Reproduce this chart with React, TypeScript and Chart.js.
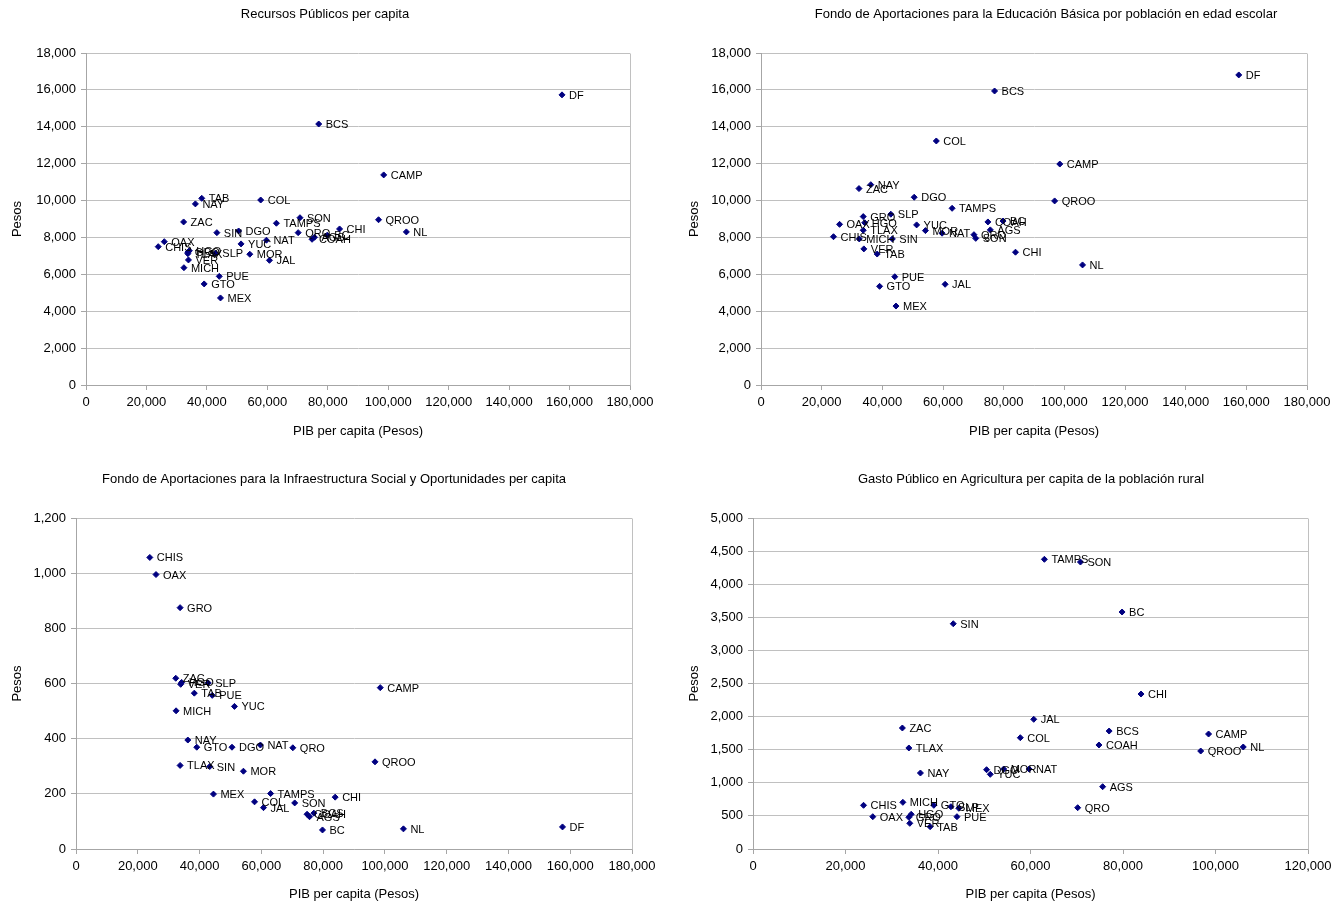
import React, { useEffect, useRef } from "react";
import { Chart, registerables } from "chart.js";

Chart.register(...registerables);

// ---------------- DATA ----------------
const states = [
  "AGS", "BC", "BCS", "CAMP", "COAH", "COL", "CHIS", "CHI", "DF", "DGO", "GTO",
  "GRO", "HGO", "JAL", "MEX", "MICH", "MOR", "NAY", "NL", "OAX", "PUE", "QRO",
  "QROO", "SLP", "SIN", "SON", "TAB", "TAMPS", "TLAX", "VER", "YUC", "ZAC", "NAT",
];

// PIB per capita (Pesos)
const pibPerCapita = [
  75600, 79800, 77000, 98500, 74800, 57800, 23900, 83900, 157500, 50500, 39100,
  33700, 34200, 60700, 44500, 32400, 54200, 36200, 106000, 25900, 44100, 70200,
  96800, 42800, 43300, 70800, 38300, 63000, 33700, 33900, 51300, 32300, 59700,
];

// Recursos Públicos per capita
const recursosPublicos = [
  8010, 8120, 14150, 11390, 7900, 10030, 7500, 8460, 15730, 8350, 5480,
  7200, 7280, 6760, 4720, 6360, 7090, 9820, 8300, 7770, 5890, 8260,
  8960, 7140, 8260, 9070, 10120, 8770, 7120, 6780, 7650, 8840, 7850,
];

// FAEB por población en edad escolar
const faeb = [
  8410, 8890, 15940, 11980, 8840, 13230, 8040, 7200, 16810, 10180, 5350,
  9130, 8800, 5460, 4280, 7920, 8370, 10860, 6510, 8710, 5870, 8150,
  9980, 9260, 7920, 7950, 7100, 9580, 8390, 7380, 8680, 10650, 8230,
];

// FAIS per capita
const fais = [
  117, 69, 130, 585, 126, 171, 1057, 188, 80, 369, 369,
  875, 604, 150, 199, 501, 282, 395, 73, 995, 557, 367,
  316, 602, 299, 167, 565, 201, 303, 597, 517, 619, 377,
];

// Gasto Público en Agricultura per capita de la población rural
const agricultura: (number | null)[] = [
  941, 3580, 1782, 1737, 1571, 1681, 660, 2341, null, 1198, 660,
  479, 524, 1959, 615, 705, 1208, 1148, 1541, 488, 488, 624,
  1480, 639, 3403, 4335, 337, 4376, 1526, 388, 1128, 1828, 1208,
];

const titles = [
  "Recursos Públicos per capita",
  "Fondo de Aportaciones para la Educación Básica por población en edad escolar",
  "Fondo de Aportaciones para la Infraestructura Social y Oportunidades per capita",
  "Gasto Público en Agricultura per capita de la población rural",
];
const xAxisTitle = "PIB per capita (Pesos)";
const yAxisTitle = "Pesos";

// ---------------- STYLE / LAYOUT ----------------
const FONT = "'Liberation Sans', Arial, Helvetica, sans-serif";
const NAVY = "#000080";
const GRID = "#c0c0c0";
const AXIS = "#a6a6a6";

type Panel = {
  left: number; top: number; w: number; h: number;
  area: { l: number; r: number; t: number; b: number };
  title: string; titleX: number; titleY: number;
  values: (number | null)[];
  yMax: number; yStep: number; xMax: number; xStep: number;
  yTitleX: number; xTitleY: number;
};

const panels: Panel[] = [
  {
    left: 0, top: 0, w: 668, h: 452,
    area: { l: 86, r: 630, t: 53, b: 385 },
    title: titles[0], titleX: 325, titleY: 14,
    values: recursosPublicos, yMax: 18000, yStep: 2000, xMax: 180000, xStep: 20000,
    yTitleX: 17, xTitleY: 431,
  },
  {
    left: 668, top: 0, w: 669, h: 452,
    area: { l: 93, r: 639, t: 53, b: 385 },
    title: titles[1], titleX: 378, titleY: 14,
    values: faeb, yMax: 18000, yStep: 2000, xMax: 180000, xStep: 20000,
    yTitleX: 26, xTitleY: 431,
  },
  {
    left: 0, top: 452, w: 668, h: 453,
    area: { l: 76, r: 632, t: 66, b: 397 },
    title: titles[2], titleX: 334, titleY: 27,
    values: fais, yMax: 1200, yStep: 200, xMax: 180000, xStep: 20000,
    yTitleX: 17, xTitleY: 442,
  },
  {
    left: 668, top: 452, w: 669, h: 453,
    area: { l: 85, r: 640, t: 66, b: 397 },
    title: titles[3], titleX: 363, titleY: 27,
    values: agricultura, yMax: 5000, yStep: 500, xMax: 120000, xStep: 20000,
    yTitleX: 26, xTitleY: 442,
  },
];

const fmt = (v: number | string) => Number(v).toLocaleString("en-US");

function makeDecor(p: Panel) {
  return {
    id: "panelDecor",
    beforeDatasetsDraw(chart: any) {
      const { ctx, chartArea } = chart;
      ctx.save();
      ctx.strokeStyle = GRID;
      ctx.lineWidth = 1;
      ctx.beginPath();
      const x = Math.round(chartArea.right) + 0.5;
      ctx.moveTo(x, Math.round(chartArea.top) + 0.5);
      ctx.lineTo(x, Math.round(chartArea.bottom) + 0.5);
      ctx.stroke();
      ctx.restore();
    },
    afterDatasetsDraw(chart: any) {
      const { ctx } = chart;
      const meta = chart.getDatasetMeta(0);
      const ds = chart.data.datasets[0].data as any[];
      ctx.save();
      ctx.font = `11px ${FONT}`;
      ctx.fillStyle = "#000";
      ctx.textAlign = "left";
      ctx.textBaseline = "middle";
      meta.data.forEach((el: any, i: number) => {
        const d = ds[i];
        if (!d) return;
        ctx.fillText(d.label, el.x + 7, el.y + 1);
      });
      ctx.restore();
    },
    afterDraw(chart: any) {
      const { ctx } = chart;
      ctx.save();
      ctx.font = `13px ${FONT}`;
      ctx.fillStyle = "#000";
      ctx.textAlign = "center";
      ctx.textBaseline = "middle";
      ctx.fillText(p.title, p.titleX, p.titleY);
      ctx.restore();
    },
  };
}

function ScatterPanel({ p }: { p: Panel }) {
  const ref = useRef<HTMLCanvasElement>(null);
  useEffect(() => {
    const canvas = ref.current!;
    const points = states
      .map((s, i) => ({ x: pibPerCapita[i], y: p.values[i], label: s }))
      .filter((d) => d.y !== null && d.x <= p.xMax);
    const tickFont = { family: FONT, size: 13 };
    const chart = new Chart(canvas, {
      type: "scatter",
      data: {
        datasets: [
          {
            data: points as any,
            pointStyle: "rectRot",
            pointRadius: 3,
            pointHoverRadius: 3,
            backgroundColor: NAVY,
            borderColor: NAVY,
            borderWidth: 1,
          },
        ],
      },
      options: {
        animation: false,
        responsive: false,
        devicePixelRatio: 1,
        events: [],
        layout: { padding: { left: 0, top: p.area.t, right: p.w - p.area.r, bottom: 0 } },
        plugins: {
          legend: { display: false },
          tooltip: { enabled: false },
          title: { display: false },
        },
        scales: {
          x: {
            type: "linear",
            min: 0,
            max: p.xMax,
            ticks: {
              stepSize: p.xStep,
              callback: (v: any) => fmt(v),
              font: tickFont,
              color: "#000",
              padding: 5,
              maxRotation: 0,
              autoSkip: false,
            },
            grid: { drawOnChartArea: false, drawTicks: true, tickLength: 5, color: AXIS },
            border: { display: true, color: AXIS },
            title: {
              display: true,
              text: xAxisTitle,
              font: { family: FONT, size: 13 },
              color: "#000",
              padding: { top: 0, bottom: p.h - p.xTitleY - 7.8 },
            },
            afterFit: (s: any) => {
              s.height = p.h - p.area.b;
            },
          },
          y: {
            type: "linear",
            min: 0,
            max: p.yMax,
            ticks: {
              stepSize: p.yStep,
              callback: (v: any) => fmt(v),
              font: tickFont,
              color: "#000",
              padding: 5,
              autoSkip: false,
            },
            grid: { drawOnChartArea: true, drawTicks: true, tickLength: 5, color: GRID, tickColor: AXIS },
            border: { display: true, color: AXIS },
            title: {
              display: true,
              text: yAxisTitle,
              font: { family: FONT, size: 13 },
              color: "#000",
              padding: { top: p.yTitleX - 7.8, bottom: 0 },
            },
            afterFit: (s: any) => {
              s.width = p.area.l;
            },
          },
        },
      } as any,
      plugins: [makeDecor(p)],
    });
    return () => chart.destroy();
  }, [p]);
  return (
    <canvas
      ref={ref}
      width={p.w}
      height={p.h}
      style={{ position: "absolute", left: p.left, top: p.top, width: p.w, height: p.h }}
    />
  );
}

export default function App() {
  return (
    <div
      style={{
        position: "absolute",
        left: 0,
        top: 0,
        width: 1337,
        height: 905,
        background: "#fff",
        overflow: "hidden",
      }}
    >
      {panels.map((p, i) => (
        <ScatterPanel key={i} p={p} />
      ))}
    </div>
  );
}
